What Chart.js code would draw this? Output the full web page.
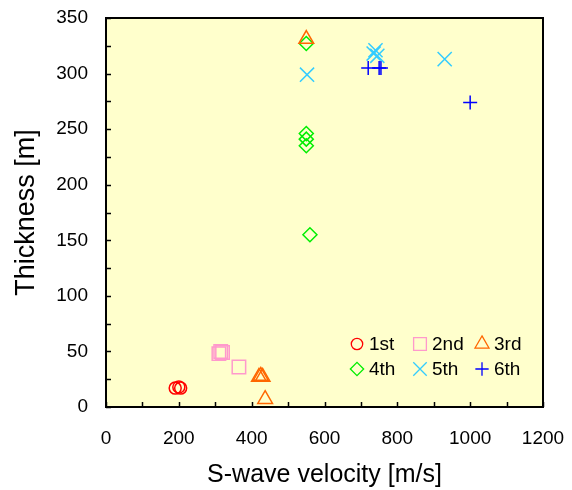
<!DOCTYPE html>
<html lang="en">
<head>
  <meta charset="UTF-8">
  <title>Thickness vs S-wave velocity</title>
  <script src="https://cdn.jsdelivr.net/npm/chart.js"></script>
  <style>
    html, body { margin: 0; padding: 0; background: #fff; }
    #wrap { width: 572px; height: 490px; }
  </style>
</head>
<body>
  <div id="wrap"><canvas id="chart" width="572" height="490"></canvas></div>
  <script>
    // Layer data: [velocity m/s, thickness m]
    const layerNames = ['1st', '2nd', '3rd', '4th', '5th', '6th'];
    const layer1 = [[190, 17], [200, 18], [205, 17]];
    const layer2 = [[310, 48], [315, 50], [320, 49], [365, 36]];
    const layer3 = [[420, 27], [425, 28], [430, 27], [437, 7], [550, 331]];
    const layer4 = [[550, 327], [550, 246], [550, 241], [550, 235], [560, 155]];
    const layer5 = [[552, 299], [735, 318], [740, 321], [745, 316], [930, 313]];
    const layer6 = [[720, 305], [750, 305], [755, 305], [1000, 274]];

    const xTicks = [0, 1200, 100];   // min, max, step
    const yTicks = [0, 350, 25];

    const colors = ['#FF0000', '#FF99CC', '#FF6600', '#00EE00', '#33CCFF', '#0000FF'];
    const styles = ['circle', 'rect', 'triangle', 'rectRot', 'crossRot', 'cross'];
    const radii = [6, 9.5, 8.5, 7, 10, 7];

    const layers = [layer1, layer2, layer3, layer4, layer5, layer6];
    const font = "Arial, 'Liberation Sans', sans-serif";

    const datasets = layers.map((pts, i) => ({
      label: layerNames[i],
      data: pts.map(p => ({ x: p[0], y: p[1] })),
      pointStyle: styles[i],
      pointRadius: radii[i],
      borderColor: colors[i],
      backgroundColor: 'transparent',
      pointBorderWidth: 1.5
    }));

    // pale yellow plot, black frame and inward ticks
    const frame = {
      id: 'frame',
      beforeDatasetsDraw(chart) {
        const { ctx, chartArea: a } = chart;
        ctx.save();
        ctx.fillStyle = '#FFFFCC';
        ctx.fillRect(a.left, a.top, a.right - a.left, a.bottom - a.top);
        ctx.restore();
      },
      afterDatasetsDraw(chart) {
        const { ctx, chartArea: a, scales } = chart;
        ctx.save();
        ctx.strokeStyle = '#000';
        ctx.lineWidth = 1.5;
        ctx.beginPath();
        scales.x.ticks.forEach(t => {
          const px = Math.round(scales.x.getPixelForValue(t.value)) + 0.5;
          ctx.moveTo(px, a.bottom);
          ctx.lineTo(px, a.bottom - 5);
        });
        scales.y.ticks.forEach(t => {
          const py = Math.round(scales.y.getPixelForValue(t.value)) + 0.5;
          ctx.moveTo(a.left, py);
          ctx.lineTo(a.left + 5, py);
        });
        ctx.stroke();
        ctx.lineWidth = 2;
        ctx.strokeRect(a.left, a.top, a.right - a.left, a.bottom - a.top);
        ctx.restore();
      }
    };

    // legend in a 3 x 2 grid inside the plot
    const gridLegend = {
      id: 'gridLegend',
      afterDraw(chart) {
        const { ctx, chartArea: a } = chart;
        const colX = [a.left + 251, a.left + 314, a.left + 376];
        const rowY = [a.bottom - 63, a.bottom - 38];
        ctx.save();
        ctx.font = '19px ' + font;
        ctx.textBaseline = 'middle';
        chart.data.datasets.forEach((ds, i) => {
          const x = colX[i % 3], y = rowY[Math.floor(i / 3)];
          ctx.strokeStyle = ds.borderColor;
          ctx.fillStyle = 'transparent';
          ctx.lineWidth = 1.3;
          Chart.helpers.drawPoint(ctx, {
            pointStyle: ds.pointStyle,
            radius: ds.pointRadius * 0.95,
            rotation: 0,
            borderWidth: 1.3
          }, x, y);
          ctx.fillStyle = '#000';
          ctx.fillText(ds.label, x + 12, y + 1);
        });
        ctx.restore();
      }
    };

    new Chart(document.getElementById('chart'), {
      type: 'scatter',
      data: { datasets },
      plugins: [frame, gridLegend],
      options: {
        responsive: false,
        animation: false,
        layout: { padding: { top: 18, right: 29, left: 10, bottom: 0 } },
        plugins: {
          legend: { display: false },
          tooltip: { enabled: false }
        },
        scales: {
          x: {
            type: 'linear',
            min: xTicks[0],
            max: xTicks[1],
            grid: { display: false },
            border: { display: false },
            ticks: {
              stepSize: xTicks[2],
              autoSkip: false,
              maxRotation: 0,
              minRotation: 0,
              color: '#000',
              padding: 12,
              font: { family: font, size: 19 },
              callback: v => (v % 200 === 0 ? v : '')
            },
            title: {
              display: true,
              text: 'S-wave velocity [m/s]',
              color: '#000',
              font: { family: font, size: 25 },
              padding: { top: 8, bottom: 0 }
            },
            afterFit(scale) {
              scale.height = 83;
              scale.paddingLeft = 0;
              scale.paddingRight = 0;
            }
          },
          y: {
            type: 'linear',
            min: yTicks[0],
            max: yTicks[1],
            grid: { display: false },
            border: { display: false },
            ticks: {
              stepSize: yTicks[2],
              autoSkip: false,
              color: '#000',
              padding: 10,
              font: { family: font, size: 19 },
              callback: v => (v % 50 === 0 ? v : '')
            },
            title: {
              display: true,
              text: 'Thickness [m]',
              color: '#000',
              font: { family: font, size: 27 },
              padding: { top: 0, bottom: 6 }
            },
            afterFit(scale) {
              scale.width = 96;
              scale.paddingTop = 0;
              scale.paddingBottom = 0;
            }
          }
        }
      }
    });
  </script>
</body>
</html>
